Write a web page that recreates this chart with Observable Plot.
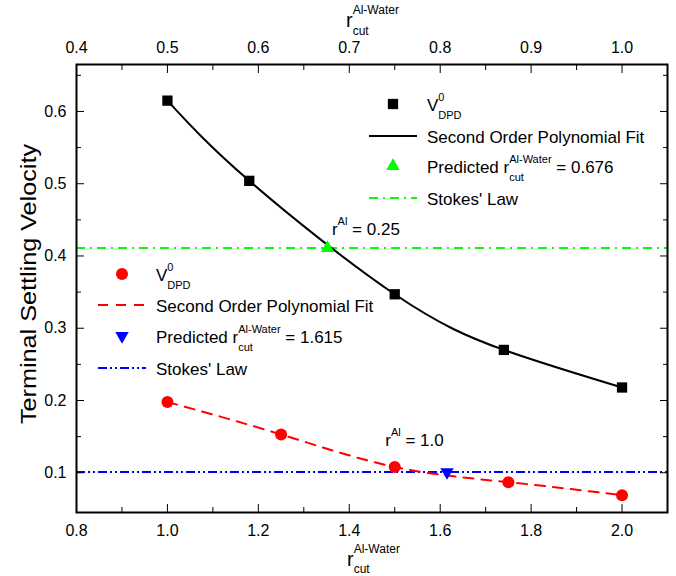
<!DOCTYPE html>
<html><head><meta charset="utf-8">
<script src="https://cdn.jsdelivr.net/npm/d3@7"></script>
<script src="https://cdn.jsdelivr.net/npm/@observablehq/plot@0.6"></script>
<style>
body{margin:0;background:#fff;}
#wrap{position:relative;width:676px;height:576px;overflow:hidden;background:#fff;}
</style></head><body><div id="wrap"></div>
<script>
// ---- data ----
const blackXTop = [0.5, 0.59, 0.75, 0.87, 1.0];          // r_cut^{Al-Water} (top axis)
const blackV    = [0.615, 0.504, 0.347, 0.270, 0.218];   // V^0_DPD, r^Al = 0.25
const redX      = [1.0, 1.25, 1.5, 1.75, 2.0];           // r_cut^{Al-Water} (bottom axis)
const redV      = [0.198, 0.153, 0.108, 0.087, 0.069];   // V^0_DPD, r^Al = 1.0
const stokesBlack = 0.411;   // Stokes' law (green)
const stokesRed   = 0.101;   // Stokes' law (blue)
const predictedTop = 0.676;  // predicted r_cut (top axis)
const predictedBottom = 1.615; // predicted r_cut (bottom axis)
const annotBlack = "r^{Al} = 0.25";
const annotRed   = "r^{Al} = 1.0";
const xMajor = [0.8, 1.0, 1.2, 1.4, 1.6, 1.8, 2.0];
const xMinor = [0.9, 1.1, 1.3, 1.5, 1.7, 1.9, 2.1];
const yMajor = [0.1, 0.2, 0.3, 0.4, 0.5, 0.6];
const yMinor = [0.15, 0.25, 0.35, 0.45, 0.55, 0.65];
const topToBottom = 2; // top axis value × 2 = bottom axis value
const yTitle = "Terminal Settling Velocity";
const xTitle = "r^{Al-Water}_{cut}";
const legendTop = ["V^{0}_{DPD}", "Second Order Polynomial Fit", "Predicted r^{Al-Water}_{cut} = 0.676", "Stokes' Law"];
const legendBottom = ["V^{0}_{DPD}", "Second Order Polynomial Fit", "Predicted r^{Al-Water}_{cut} = 1.615", "Stokes' Law"];

const FONT = "'Liberation Sans', Arial, Helvetica, sans-serif";
const GREEN = "#00ff00", BLUE = "#0000ff", RED = "#ff0000";
const DASH_GREEN = "9,5,2,5", DASH_BLUE = "9,3,2,3,2,3", DASH_RED = "10,8";

const black = blackXTop.map((t, i) => ({x: t * topToBottom, v: blackV[i]}));
const red = redX.map((x, i) => ({x, v: redV[i]}));

const chart = Plot.plot({
  width: 676, height: 576,
  marginLeft: 76, marginRight: 9, marginTop: 64, marginBottom: 64,
  x: {domain: [0.8, 2.1]},
  y: {domain: [0.045, 0.665]},
  style: {fontFamily: FONT, fontSize: "16px", color: "black", background: "white"},
  marks: [
    Plot.ruleY([stokesBlack], {stroke: GREEN, strokeWidth: 2, strokeDasharray: DASH_GREEN}),
    Plot.ruleY([stokesRed], {stroke: BLUE, strokeWidth: 2, strokeDasharray: DASH_BLUE}),
    Plot.line(black, {x: "x", y: "v", curve: "natural", stroke: "black", strokeWidth: 2}),
    Plot.line(red, {x: "x", y: "v", curve: "natural", stroke: RED, strokeWidth: 2, strokeDasharray: DASH_RED}),
    Plot.dot(black, {x: "x", y: "v", symbol: "square", fill: "black", r: 5.8}),
    Plot.dot(red, {x: "x", y: "v", symbol: "circle", fill: RED, r: 6}),
    Plot.dot([{x: predictedTop * topToBottom, v: stokesBlack}], {x: "x", y: "v", symbol: "triangle", fill: GREEN, r: 5}),
    Plot.dot([{x: predictedBottom, v: stokesRed}], {x: "x", y: "v", symbol: "triangle", rotate: 180, fill: BLUE, r: 5}),
    // axes: labels
    Plot.axisX(xMajor, {anchor: "bottom", tickSize: 0, tickPadding: 12, tickFormat: d => d.toFixed(1), label: null}),
    Plot.axisX(xMajor, {anchor: "top", tickSize: 0, tickPadding: 12, tickFormat: d => (d / topToBottom).toFixed(1), label: null}),
    Plot.axisY(yMajor, {anchor: "left", tickSize: 0, tickPadding: 10, tickFormat: d => d.toFixed(1), label: null}),
    // axes: inward ticks
    Plot.axisX(xMajor, {anchor: "bottom", tickSize: -8, fill: "none", label: null}),
    Plot.axisX(xMinor, {anchor: "bottom", tickSize: -5, fill: "none", label: null}),
    Plot.axisX(xMajor, {anchor: "top", tickSize: -8, fill: "none", label: null}),
    Plot.axisX(xMinor, {anchor: "top", tickSize: -5, fill: "none", label: null}),
    Plot.axisY(yMajor, {anchor: "left", tickSize: -8, fill: "none", label: null}),
    Plot.axisY(yMinor, {anchor: "left", tickSize: -5, fill: "none", label: null}),
    Plot.axisY(yMajor, {anchor: "right", tickSize: -8, fill: "none", label: null}),
    Plot.axisY(yMinor, {anchor: "right", tickSize: -5, fill: "none", label: null}),
    Plot.frame({stroke: "black", strokeWidth: 2})
  ]
});
const wrap = document.getElementById("wrap");
wrap.appendChild(chart);
const xs = chart.scale("x"), ys = chart.scale("y");

const ov = d3.select(wrap).append("svg")
  .attr("width", 676).attr("height", 576)
  .style("position", "absolute").style("left", "0px").style("top", "0px")
  .style("pointer-events", "none")
  .attr("font-family", FONT).attr("fill", "black");

// text with ^{sup} and _{sub} (stacked when both follow)
function richText(parent, str, x, y, o) {
  const t = parent.append("text").attr("x", x).attr("y", y).attr("font-size", o.size);
  const re = /\^\{([^}]*)\}(?:_\{([^}]*)\})?|_\{([^}]*)\}/g;
  let last = 0, m, shift = 0, pend = 0;
  const add = (txt, target, fs) => {
    const s = t.append("tspan").attr("dy", target - shift).text(txt);
    if (fs) s.attr("font-size", fs);
    if (pend) { s.attr("dx", pend); pend = 0; }
    shift = target;
    return s;
  };
  while ((m = re.exec(str))) {
    if (m.index > last) add(str.slice(last, m.index), 0);
    if (m[1] != null) {
      const a = add(m[1], -o.up, o.small);
      const aw = a.node().getComputedTextLength();
      if (m[2] != null) {
        pend = -aw;
        const b = add(m[2], o.down, o.small);
        const bw = b.node().getComputedTextLength();
        pend = Math.max(aw, bw) - bw;
      }
    } else {
      add(m[3], o.down, o.small);
    }
    last = re.lastIndex;
  }
  if (last < str.length) add(str.slice(last), 0);
  return t;
}

// axis titles
richText(ov, xTitle, 346, 27, {size: 20, small: 12, up: 13, down: 8});
richText(ov, xTitle, 347, 566, {size: 20, small: 12, up: 13, down: 7});
ov.append("text").attr("transform", "translate(36,284) rotate(-90)")
  .attr("text-anchor", "middle").attr("font-size", 22)
  .attr("textLength", 280).attr("lengthAdjust", "spacingAndGlyphs").text(yTitle);

// annotations anchored to data points
richText(ov, annotBlack, xs.apply(predictedTop * topToBottom) + 5, ys.apply(stokesBlack) - 13, {size: 17, small: 11, up: 10, down: 0});
richText(ov, annotRed, xs.apply(redX[2]) - 9, ys.apply(redV[2]) - 20, {size: 17, small: 11, up: 10, down: 0});

// legends
function legend(items, sx, tx, rows, cfg) {
  items.forEach((txt, i) => {
    const y = rows[i];
    const c = cfg[i];
    if (c.type === "sym") {
      ov.append("path").attr("d", d3.symbol(c.sym, Math.PI * c.r * c.r)())
        .attr("transform", `translate(${sx},${y}) rotate(${c.rot || 0})`).attr("fill", c.color);
    } else {
      ov.append("line").attr("x1", sx - 24).attr("x2", sx + 24).attr("y1", y).attr("y2", y)
        .attr("stroke", c.color).attr("stroke-width", 2).attr("stroke-dasharray", c.dash || null);
    }
    richText(ov, txt, tx, y + 6.5, {size: 17, small: 11, up: 10, down: 8});
  });
}
legend(legendTop, 393, 427, [104, 136, 166, 198], [
  {type: "sym", sym: d3.symbolSquare, r: 5.8, color: "black"},
  {type: "line", color: "black"},
  {type: "sym", sym: d3.symbolTriangle, r: 5, color: GREEN},
  {type: "line", color: GREEN, dash: DASH_GREEN}
]);
legend(legendBottom, 122, 156, [274, 305, 336, 368], [
  {type: "sym", sym: d3.symbolCircle, r: 6, color: RED},
  {type: "line", color: RED, dash: DASH_RED},
  {type: "sym", sym: d3.symbolTriangle, r: 5, color: BLUE, rot: 180},
  {type: "line", color: BLUE, dash: DASH_BLUE}
]);
</script></body></html>
